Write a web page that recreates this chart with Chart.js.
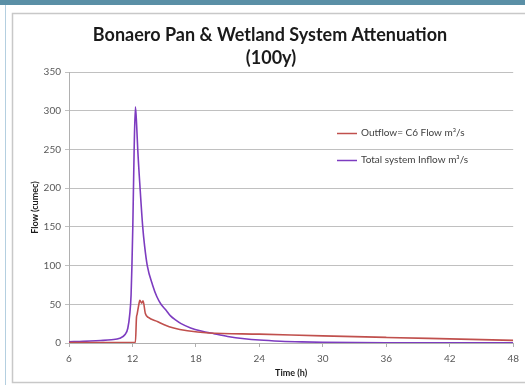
<!DOCTYPE html>
<html>
<head>
<meta charset="utf-8">
<script src="https://cdn.jsdelivr.net/npm/chart.js@4/dist/chart.umd.min.js"></script>
<style>
  html, body { margin: 0; padding: 0; background: #fff; }
  #wrap { width: 525px; height: 385px; position: relative; }
</style>
</head>
<body>
<div id="wrap"><canvas id="attChart" width="525" height="385"></canvas></div>
<script>
// chart values
var chartTitle = ['Bonaero Pan & Wetland System Attenuation', '(100y)'];
var xTitle = 'Time (h)';
var yTitle = 'Flow (cumec)';
var seriesNames = ['Outflow= C6 Flow m\u00b3/s', 'Total system Inflow m\u00b3/s'];

var outflowTime = [6, 9, 12.28, 12.38, 12.44, 12.58, 12.7, 12.87, 13.0, 13.22, 13.5, 14.4, 15.0, 15.9, 17.2, 19.2, 24, 30, 36, 42, 48];
var outflowFlow = [0.5, 0.6, 1, 33, 37, 48, 55, 51.5, 54.5, 38, 33, 27.5, 23.6, 19.3, 15.8, 13, 11.4, 9.2, 7.2, 5.3, 3.4];

var inflowTime = [6, 7, 8, 9, 10, 10.8, 11.3, 11.56, 11.75, 11.87, 11.95, 12.03, 12.16, 12.28, 12.4, 12.5, 12.72, 12.97, 13.15, 13.4, 13.9, 14.3, 14.7, 15.2, 15.6, 16.1, 16.6, 17.5, 18.5, 19.7, 21, 22.6, 24, 26, 28, 30, 33, 36, 42, 48];
var inflowFlow = [1.5, 2, 2.5, 3.2, 4.2, 6, 11, 19, 38, 62, 100, 148, 250, 305, 280, 250, 200, 150, 125, 100, 75, 60, 50, 42, 35, 29.5, 25, 19.5, 15.5, 12, 8.5, 5.5, 3.8, 2.3, 1.4, 0.9, 0.5, 0.3, 0.2, 0.1];

var xMin = 6, xMax = 48, xStep = 6;
var yMin = 0, yMax = 350, yStep = 50;

function pairs(xs, ys) {
  var out = [];
  for (var i = 0; i < xs.length; i++) out.push({x: xs[i], y: ys[i]});
  return out;
}

// frame round the chart, like the pasted Excel object
var framePlugin = {
  id: 'frame',
  beforeDraw: function(chart) {
    var ctx = chart.ctx;
    ctx.save();
    ctx.fillStyle = '#ffffff';
    ctx.fillRect(0, 0, chart.width, chart.height);
    ctx.fillStyle = '#5a8fa6';
    ctx.fillRect(0, 0, chart.width, 5);
    ctx.fillStyle = '#b4cfe0';
    ctx.fillRect(5, 5, 1, chart.height - 5);
    ctx.strokeStyle = '#c8c8c8';
    ctx.lineWidth = 1.5;
    ctx.strokeRect(12.5, 13.5, chart.width, 369);
    ctx.restore();
  },
  afterDraw: function(chart) {
    // title, centred where Excel put it
    var ctx = chart.ctx;
    ctx.save();
    ctx.font = 'bold 18px Lato';
    ctx.fillStyle = '#1a1a1a';
    ctx.textAlign = 'center';
    ctx.textBaseline = 'middle';
    ctx.fillText(chartTitle[0], 270, 35);
    ctx.fillText(chartTitle[1], 271, 58);
    ctx.restore();
  }
};

// legend sits inside the plot area on the right
var legendPlugin = {
  id: 'insideLegend',
  afterDraw: function(chart) {
    var ctx = chart.ctx;
    var ys = [133, 160];
    ctx.save();
    ctx.font = '10px Lato';
    ctx.textBaseline = 'middle';
    ctx.textAlign = 'left';
    chart.data.datasets.forEach(function(ds, i) {
      ctx.strokeStyle = ds.borderColor;
      ctx.lineWidth = 1.5;
      ctx.beginPath();
      ctx.moveTo(337, ys[i] + 0.5);
      ctx.lineTo(357, ys[i] + 0.5);
      ctx.stroke();
      ctx.fillStyle = '#404040';
      ctx.fillText(ds.label, 361, ys[i]);
    });
    ctx.restore();
  }
};

var ctx = document.getElementById('attChart');
var attChart = new Chart(ctx, {
  type: 'line',
  data: {
    datasets: [{
      label: seriesNames[0],
      data: pairs(outflowTime, outflowFlow),
      borderColor: '#c0504d',
      borderWidth: 1.6,
      pointRadius: 0,
      cubicInterpolationMode: 'monotone'
    }, {
      label: seriesNames[1],
      data: pairs(inflowTime, inflowFlow),
      borderColor: '#7d3cc0',
      borderWidth: 1.6,
      pointRadius: 0,
      cubicInterpolationMode: 'monotone'
    }]
  },
  options: {
    responsive: false,
    animation: false,
    layout: { padding: { left: 0, right: 8, top: 72, bottom: 0 } },
    plugins: {
      legend: { display: false },
      tooltip: { enabled: false },
      title: { display: false }
    },
    scales: {
      x: {
        type: 'linear',
        min: xMin,
        max: xMax,
        afterFit: function(scale) { scale.height = 42; },
        ticks: {
          stepSize: xStep,
          color: '#595959',
          font: { family: 'Lato', size: 10 },
          padding: 6,
          maxRotation: 0
        },
        grid: { drawOnChartArea: false, drawTicks: true, tickLength: 4, color: '#b0b0b0' },
        border: { color: '#b0b0b0' },
        title: {
          display: true,
          text: xTitle,
          color: '#1a1a1a',
          font: { family: 'Lato', size: 9, weight: 'bold' },
          padding: { top: 0, bottom: 7 }
        }
      },
      y: {
        min: yMin,
        max: yMax,
        afterFit: function(scale) { scale.width = 69; },
        ticks: {
          stepSize: yStep,
          color: '#595959',
          font: { family: 'Lato', size: 10 },
          padding: 4
        },
        grid: { color: '#c0c0c0', tickLength: 4 },
        border: { color: '#b0b0b0' },
        title: {
          display: true,
          text: yTitle,
          color: '#1a1a1a',
          font: { family: 'Lato', size: 9, weight: 'bold' },
          padding: { top: 30, bottom: 0 }
        }
      }
    }
  },
  plugins: [framePlugin, legendPlugin]
});
</script>
</body>
</html>
